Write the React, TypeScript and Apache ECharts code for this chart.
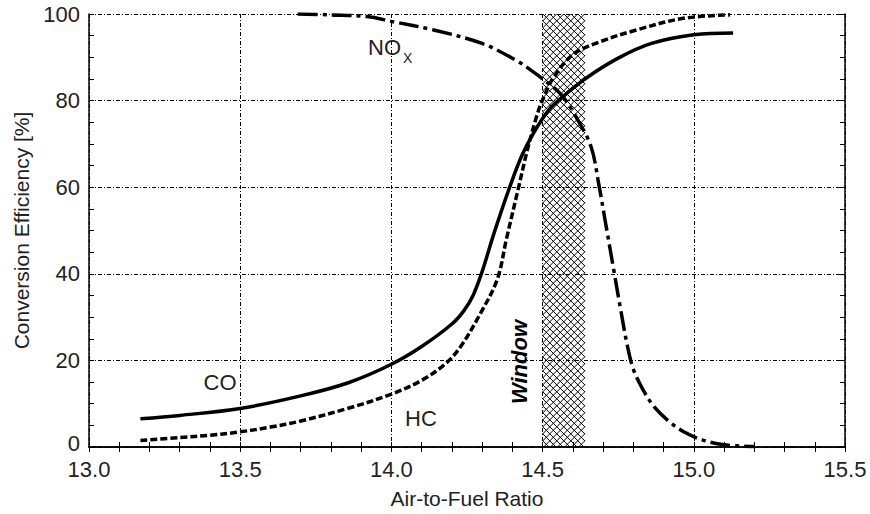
import React, { useEffect, useRef } from "react";
import * as echarts from "echarts";

const xTicks = [13.0, 13.5, 14.0, 14.5, 15.0, 15.5];
const yTicks = [0, 20, 40, 60, 80, 100];

const coX = [13.17, 13.3, 13.5, 13.7, 13.86, 14.0, 14.1, 14.2, 14.24, 14.27, 14.3, 14.34, 14.39, 14.43, 14.47, 14.52, 14.56, 14.64, 14.75, 14.86, 15.0, 15.13];
const coY = [6.5, 7.3, 8.9, 11.8, 14.9, 19.1, 23.2, 28.4, 31.5, 35, 40.5, 49.5, 59.8, 67.1, 72.5, 77.8, 80.5, 85, 89.8, 93.2, 95.2, 95.6];

const hcX = [13.17, 13.3, 13.4, 13.5, 13.6, 13.7, 13.86, 14.0, 14.1, 14.18, 14.23, 14.29, 14.35, 14.38, 14.42, 14.45, 14.48, 14.5, 14.535, 14.6, 14.69, 14.81, 14.965, 15.12];
const hcY = [1.5, 2.2, 2.7, 3.5, 4.6, 6.0, 9.0, 12.2, 15.4, 19.3, 23.3, 30.3, 38.7, 47.9, 59.8, 68.7, 76.3, 80.2, 85.2, 90.6, 93.6, 96.3, 99, 99.8];

const noxX = [13.69, 13.8, 13.92, 14.0, 14.14, 14.3, 14.41, 14.46, 14.5, 14.56, 14.61, 14.66, 14.685, 14.71, 14.735, 14.76, 14.78, 14.8, 14.83, 14.87, 14.92, 14.97, 15.03, 15.1, 15.2];
const noxY = [100, 99.8, 99.4, 98.3, 96.3, 93.2, 89.4, 87.1, 85.0, 81.5, 76.3, 69.4, 61, 51, 41, 31, 23.5, 18, 13.5, 9.2, 5.8, 3.4, 1.6, 0.5, 0.1];

const windowRange = [[14.5, 14.64]];

const FONT = "'Liberation Sans', Arial, sans-serif";
const TXT = "#222";

function zip(xs: number[], ys: number[]) {
  return xs.map((x, i) => [x, ys[i]]);
}

export default function App() {
  const ref = useRef<HTMLDivElement>(null);
  useEffect(() => {
    document.body.style.margin = "0";
    if (!ref.current) return;
    const chart = echarts.init(ref.current, null, { renderer: "svg" });
    const gridLine = { show: true, lineStyle: { color: "#000", width: 1, type: [4, 2, 1, 2] as any } };
    const axisLine = { show: true, lineStyle: { color: "#000", width: 1.5 } };
    const tick = { show: true, inside: true, length: 5, lineStyle: { color: "#000", width: 1 } };
    const minor = (n: number) => ({ show: true, splitNumber: n, length: 5, lineStyle: { color: "#000", width: 1 } });
    const option: any = {
      animation: false,
      backgroundColor: "#fff",
      textStyle: { fontFamily: FONT },
      grid: { left: 89, right: 25, top: 14, bottom: 66 },
      xAxis: [
        {
          type: "value", min: xTicks[0], max: xTicks[xTicks.length - 1], interval: 0.5, position: "bottom",
          axisLine, axisTick: tick, minorTick: minor(5),
          splitLine: gridLine,
          axisLabel: { formatter: (v: number) => v.toFixed(1), fontSize: 22, lineHeight: 20, color: TXT, margin: 12, fontFamily: FONT },
          name: "Air-to-Fuel Ratio", nameLocation: "middle", nameGap: 41,
          nameTextStyle: { fontSize: 21, color: TXT, fontFamily: FONT },
        },
        {
          type: "value", min: xTicks[0], max: xTicks[xTicks.length - 1], interval: 0.5, position: "top",
          axisLine, axisTick: tick, minorTick: minor(5),
          splitLine: { show: false }, axisLabel: { show: false },
        },
      ],
      yAxis: [
        {
          type: "value", min: yTicks[0], max: yTicks[yTicks.length - 1], interval: 20, position: "left",
          axisLine, axisTick: tick, minorTick: minor(4),
          splitLine: gridLine,
          axisLabel: {
            fontSize: 22, lineHeight: 16, color: TXT, margin: 9, fontFamily: FONT,
            formatter: (v: number) => (v === 0 ? "{z|0}" : String(v)),
            rich: { z: { fontSize: 22, lineHeight: 16, color: TXT, fontFamily: FONT, padding: [0, 0, 7, 0] } },
          },
          name: "Conversion Efficiency [%]", nameLocation: "middle", nameGap: 55,
          nameTextStyle: { fontSize: 21, color: TXT, fontFamily: FONT },
        },
        {
          type: "value", min: yTicks[0], max: yTicks[yTicks.length - 1], interval: 20, position: "right",
          axisLine, axisTick: tick, minorTick: minor(4),
          splitLine: { show: false }, axisLabel: { show: false },
        },
      ],
      series: [
        {
          type: "custom",
          name: "Window",
          z: 1,
          data: windowRange,
          encode: { x: [0, 1] },
          renderItem: (params: any, api: any) => {
            const p0 = api.coord([api.value(0), 100]);
            const p1 = api.coord([api.value(1), 0]);
            const L = p0[0], T = p0[1], R = p1[0], B = p1[1];
            const step = 7;
            const children: any[] = [];
            const ls = { stroke: "#000", lineWidth: 1 };
            for (let c = L + T; c <= R + B; c += step) {
              const xa = Math.max(L, c - B), xb = Math.min(R, c - T);
              if (xb > xa) children.push({ type: "line", shape: { x1: xa, y1: c - xa, x2: xb, y2: c - xb }, style: ls });
            }
            for (let c = T - R; c <= B - L; c += step) {
              const xa = Math.max(L, T - c), xb = Math.min(R, B - c);
              if (xb > xa) children.push({ type: "line", shape: { x1: xa, y1: xa + c, x2: xb, y2: xb + c }, style: ls });
            }
            return { type: "group", children };
          },
        },
        {
          type: "line", name: "CO", z: 3, data: zip(coX, coY), showSymbol: false, smooth: 0.35,
          lineStyle: { color: "#000", width: 3.5, type: "solid" },
        },
        {
          type: "line", name: "HC", z: 3, data: zip(hcX, hcY), showSymbol: false, smooth: 0.35,
          lineStyle: { color: "#000", width: 3.5, type: [7, 3] },
        },
        {
          type: "line", name: "NOx", z: 3, data: zip(noxX, noxY), showSymbol: false, smooth: 0.35,
          lineStyle: { color: "#000", width: 3.5, type: [20, 5, 4, 5] },
        },
      ],
      graphic: [
        { type: "text", x: 220, y: 382, style: { text: "CO", fontSize: 22, fontFamily: FONT, fill: TXT, align: "center", verticalAlign: "middle" } },
        { type: "text", x: 421, y: 418, style: { text: "HC", fontSize: 22, fontFamily: FONT, fill: TXT, align: "center", verticalAlign: "middle" } },
        { type: "text", x: 368, y: 47, style: { text: "NO", fontSize: 22, fontFamily: FONT, fill: TXT, align: "left", verticalAlign: "middle" } },
        { type: "text", x: 403, y: 58, style: { text: "X", fontSize: 14, fontFamily: FONT, fill: TXT, align: "left", verticalAlign: "middle" } },
        { type: "text", x: 519, y: 362, rotation: Math.PI / 2, style: { text: "Window", fontSize: 22, fontWeight: "bold", fontStyle: "italic", fontFamily: FONT, fill: "#000", align: "center", verticalAlign: "middle" } },
      ],
    };
    chart.setOption(option);
    return () => chart.dispose();
  }, []);
  return <div ref={ref} style={{ width: 870, height: 514 }} />;
}
